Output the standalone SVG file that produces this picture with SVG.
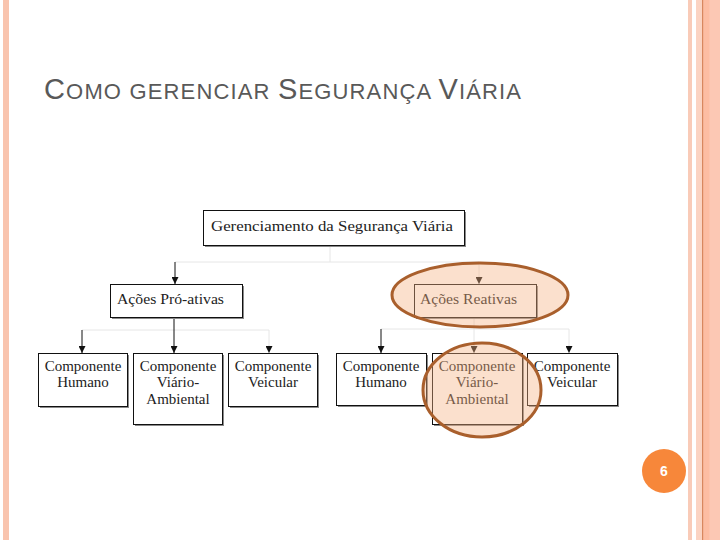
<svg xmlns="http://www.w3.org/2000/svg" width="720" height="540" viewBox="0 0 720 540">
<defs>
<style>
.title{font-family:"Liberation Sans",Arial,sans-serif;fill:#595959}
.box{fill:#fff;stroke:#111;stroke-width:1}
.shadow{fill:#8a8a8a}
.lbl{font-family:"Liberation Serif","Times New Roman",serif;font-size:15px;fill:#222;text-anchor:middle}
.lbl2{font-family:"Liberation Serif","Times New Roman",serif;font-size:15.5px;fill:#222}
.dark{fill:none;stroke:#111;stroke-width:1}
.faint{fill:none;stroke:#e6e6e6;stroke-width:1}
.hl{fill:#f4b183;fill-opacity:0.4;stroke:#a95f2c;stroke-width:3}
</style>
<marker id="ah" viewBox="0 0 10 10" refX="10" refY="5" markerWidth="7" markerHeight="7" markerUnits="userSpaceOnUse" orient="auto">
<path d="M0,0 L10,5 L0,10 z" fill="#111"/>
</marker>
</defs>
<rect width="720" height="540" fill="#fff"/>
<!-- side stripes -->
<rect x="3" y="0" width="6" height="540" fill="#f9c4ae"/>
<rect x="688" y="0" width="4" height="540" fill="#f9cbb8"/>
<rect x="696" y="0" width="24" height="540" fill="#fcc8b4"/>
<rect x="696" y="0" width="6" height="540" fill="#fbd3c2"/>
<rect x="702" y="0" width="1.5" height="540" fill="#d9875f"/>
<rect x="703.5" y="0" width="6" height="540" fill="#fdbda3"/>

<text class="title" x="44" y="99" textLength="477" lengthAdjust="spacing"><tspan font-size="29">C</tspan><tspan font-size="22">OMO GERENCIAR </tspan><tspan font-size="29">S</tspan><tspan font-size="22">EGURANÇA </tspan><tspan font-size="29">V</tspan><tspan font-size="22">IÁRIA</tspan></text>

<g id="connectors">
<path class="faint" d="M330,246 V262 M175,262 H479 M479,262 V284"/>
<path class="dark" d="M175,262 V284" marker-end="url(#ah)"/>
<path class="faint" d="M82,330 H269 M269,330 V353"/>
<path class="dark" d="M82,330 V353" marker-end="url(#ah)"/>
<path class="dark" d="M174,318 V353" marker-end="url(#ah)"/>
<path class="faint" d="M269,345 V353" marker-end="url(#ah)"/>
<path class="faint" d="M474,318 V353 M381,329 H569 M569,329 V353"/>
<path class="dark" d="M381,329 V353" marker-end="url(#ah)"/>
<path class="faint" d="M474,345 V353" marker-end="url(#ah)"/>
<path class="faint" d="M569,345 V353" marker-end="url(#ah)"/>
<path class="faint" d="M479,276 V284" marker-end="url(#ah)"/>
</g>

<g id="n-gerenciamento">
<rect class="shadow" x="205" y="212" width="261" height="35"/>
<rect class="box" x="203.5" y="210.5" width="261" height="35"/>
<text class="lbl2" x="211" y="231" font-size="16.5" textLength="242" lengthAdjust="spacingAndGlyphs">Gerenciamento da Segurança Viária</text>
</g>

<g id="n-proativas">
<rect class="shadow" x="112" y="286" width="132" height="33"/>
<rect class="box" x="110.5" y="284.5" width="132" height="33"/>
<text class="lbl2" x="117" y="304" textLength="107" lengthAdjust="spacingAndGlyphs">Ações Pró-ativas</text>
</g>

<g id="n-reativas">
<rect class="shadow" x="416" y="286" width="122" height="33"/>
<rect class="box" x="414.5" y="284.5" width="122" height="33"/>
<text class="lbl2" x="420" y="304" textLength="97" lengthAdjust="spacingAndGlyphs">Ações Reativas</text>
</g>

<g id="n-humano-1">
<rect class="shadow" x="40" y="355" width="89" height="53"/>
<rect class="box" x="38.5" y="353.5" width="89" height="53"/>
<text class="lbl" x="83" y="371">Componente</text>
<text class="lbl" x="83" y="387">Humano</text>
</g>
<g id="n-viario-1">
<rect class="shadow" x="135" y="355" width="89" height="71"/>
<rect class="box" x="133.5" y="353.5" width="89" height="71"/>
<text class="lbl" x="178" y="371">Componente</text>
<text class="lbl" x="178" y="387">Viário-</text>
<text class="lbl" x="178" y="404">Ambiental</text>
</g>
<g id="n-veicular-1">
<rect class="shadow" x="230" y="355" width="89" height="53"/>
<rect class="box" x="228.5" y="353.5" width="89" height="53"/>
<text class="lbl" x="273" y="371">Componente</text>
<text class="lbl" x="273" y="387">Veicular</text>
</g>

<g id="n-humano-2">
<rect class="shadow" x="338" y="355" width="90" height="52"/>
<rect class="box" x="336.5" y="353.5" width="90" height="52"/>
<text class="lbl" x="381" y="371">Componente</text>
<text class="lbl" x="381" y="387">Humano</text>
</g>
<g id="n-viario-2">
<rect class="shadow" x="434" y="355" width="90" height="71"/>
<rect class="box" x="432.5" y="353.5" width="90" height="71"/>
<text class="lbl" x="477" y="371">Componente</text>
<text class="lbl" x="477" y="387">Viário-</text>
<text class="lbl" x="477" y="404">Ambiental</text>
</g>
<g id="n-veicular-2">
<rect class="shadow" x="529" y="355" width="90" height="52"/>
<rect class="box" x="527.5" y="353.5" width="90" height="52"/>
<text class="lbl" x="572" y="371">Componente</text>
<text class="lbl" x="572" y="387">Veicular</text>
</g>

<g id="highlights">
<ellipse class="hl" cx="480" cy="295" rx="88" ry="32"/>
<ellipse class="hl" cx="482" cy="390" rx="59" ry="47"/>
</g>

<g id="page-number">
<circle cx="664" cy="471" r="22" fill="#f7873a"/>
<text x="664" y="476" font-family="Liberation Sans,Arial,sans-serif" font-size="14" font-weight="bold" fill="#fff" text-anchor="middle">6</text>
</g>
</svg>
